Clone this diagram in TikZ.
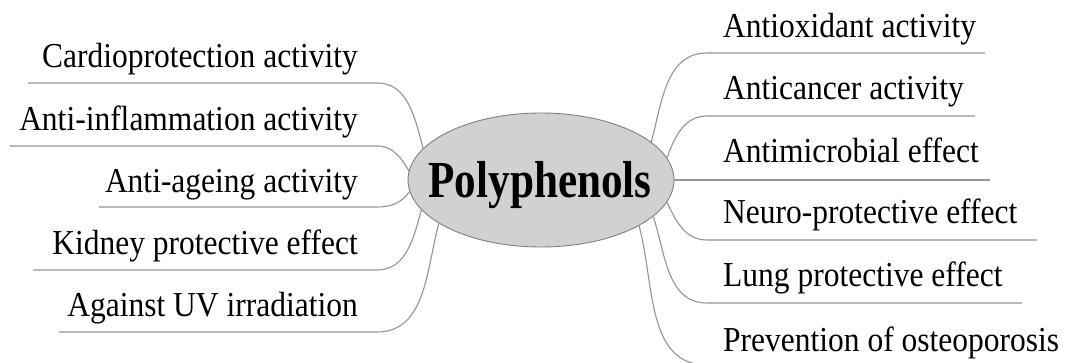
\documentclass[tikz,border=0pt]{standalone}
\usepackage{fontspec}
\setmainfont{Liberation Serif}
\usepackage{graphicx}
\usetikzlibrary{shapes.geometric}
\begin{document}
\begin{tikzpicture}[x=1pt,y=-1pt,
  branch/.style={draw=black!42, line width=1.1pt},
  leftlabel/.style={anchor=base east, inner sep=0pt, font=\fontsize{35}{40}\selectfont},
  rightlabel/.style={anchor=base west, inner sep=0pt, font=\fontsize{35}{40}\selectfont},
  hub/.style={ellipse, draw=black!50, line width=0.9pt, fill=black!18, minimum width=266pt, minimum height=134pt, inner sep=0pt}
]
\useasboundingbox (0,0) rectangle (1071,363);
\clip (0,0) rectangle (1071,363);
\fill[white] (0,0) rectangle (1071,363);

% hub
\node[hub] (hub) at (541,180) {};
\node[anchor=base, inner sep=0pt, font=\fontsize{52}{60}\selectfont\bfseries] (hubtext) at (540,198) {\scalebox{0.83}[1]{Polyphenols}};

% underline end coordinates (inner end i, outer end o)
\coordinate (l1i) at (377,83);  \coordinate (l1o) at (28,83);
\coordinate (l2i) at (377,146); \coordinate (l2o) at (10,146);
\coordinate (l3i) at (377,207); \coordinate (l3o) at (99,207);
\coordinate (l4i) at (377,270); \coordinate (l4o) at (33,270);
\coordinate (l5i) at (377,332); \coordinate (l5o) at (59,332);

\coordinate (r1i) at (707,53);  \coordinate (r1o) at (985,53);
\coordinate (r2i) at (707,116); \coordinate (r2o) at (975,116);
\coordinate (r3o) at (990,180);
\coordinate (r4i) at (707,240); \coordinate (r4o) at (1037,240);
\coordinate (r5i) at (707,303); \coordinate (r5o) at (1022,303);
\coordinate (r6i) at (707,365); \coordinate (r6o) at (1071,365);

% branches
\draw[branch] (l1o) -- (l1i) to[out=0,in=105] (hub.165);
\draw[branch] (l2o) -- (l2i) to[out=0,in=120] (hub.176);
\draw[branch] (l3o) -- (l3i) to[out=0,in=235] (hub.185);
\draw[branch] (l4o) -- (l4i) to[out=0,in=255] (hub.194);
\draw[branch] (l5o) -- (l5i) to[out=0,in=255] (hub.203);

\draw[branch] (r1o) -- (r1i) to[out=180,in=75] (hub.19);
\draw[branch] (r2o) -- (r2i) to[out=180,in=70] (hub.10);
\draw[branch] (r3o) -- (hub.0);
\draw[branch] (r4o) -- (r4i) to[out=180,in=-65] (hub.-10);
\draw[branch] (r5o) -- (r5i) to[out=180,in=-72] (hub.-18);
\draw[branch] (r6o) -- (r6i) to[out=180,in=-75] (hub.-25);

% left labels
\node[leftlabel] (t1) at (358,68)  {\scalebox{0.9}[1]{Cardioprotection activity}};
\node[leftlabel] (t2) at (358,131) {\scalebox{0.9}[1]{Anti-inflammation activity}};
\node[leftlabel] (t3) at (358,193) {\scalebox{0.9}[1]{Anti-ageing activity}};
\node[leftlabel] (t4) at (358,255) {\scalebox{0.9}[1]{Kidney protective effect}};
\node[leftlabel] (t5) at (358,317) {\scalebox{0.9}[1]{Against UV irradiation}};

% right labels
\node[rightlabel] (s1) at (723,38)  {\scalebox{0.9}[1]{Antioxidant activity}};
\node[rightlabel] (s2) at (723,100) {\scalebox{0.9}[1]{Anticancer activity}};
\node[rightlabel] (s3) at (723,163) {\scalebox{0.9}[1]{Antimicrobial effect}};
\node[rightlabel] (s4) at (723,224) {\scalebox{0.9}[1]{Neuro-protective effect}};
\node[rightlabel] (s5) at (723,287) {\scalebox{0.9}[1]{Lung protective effect}};
\node[rightlabel] (s6) at (723,352) {\scalebox{0.9}[1]{Prevention of osteoporosis}};
\end{tikzpicture}
\end{document}
